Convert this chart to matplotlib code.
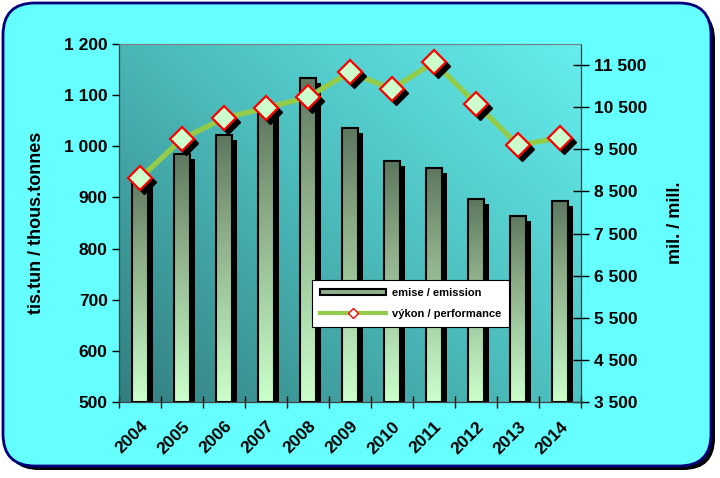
import numpy as np
import matplotlib
matplotlib.use('Agg')
import matplotlib.pyplot as plt
import matplotlib.transforms as mtransforms
from matplotlib.patches import FancyBboxPatch, Rectangle
from matplotlib.colors import LinearSegmentedColormap
from matplotlib.lines import Line2D
from matplotlib.ticker import FixedLocator, FuncFormatter

plt.rcParams['font.family'] = ['Liberation Sans', 'DejaVu Sans']
plt.rcParams['font.weight'] = 'bold'

# data
years = ['2004', '2005', '2006', '2007', '2008', '2009', '2010', '2011', '2012', '2013', '2014']
emission = [944, 985, 1022, 1068, 1134, 1036, 971, 958, 897, 864, 893]
performance = [8810, 9740, 10240, 10480, 10740, 11330, 10930, 11570, 10580, 9600, 9770]

fig = plt.figure(figsize=(7.2, 4.78), dpi=100)
fig.patch.set_facecolor('white')

# rounded cyan frame with shadow
shadow = FancyBboxPatch((7, 8), 708, 462, boxstyle='round,pad=0,rounding_size=32',
                        transform=mtransforms.IdentityTransform(),
                        facecolor='black', edgecolor='none', zorder=0)
frame = FancyBboxPatch((3, 12), 708, 463, boxstyle='round,pad=0,rounding_size=32',
                       transform=mtransforms.IdentityTransform(),
                       facecolor='#66ffff', edgecolor='#00007a', linewidth=2, zorder=1)
fig.patches.extend([shadow, frame])

ax = fig.add_axes([0.165, 0.159, 0.642, 0.749])
ax.set_zorder(2)
ax2 = ax.twinx()
ax2.set_zorder(3)
ax2.patch.set_visible(False)

x = np.arange(len(years))

# plot area gradient (dark teal lower-left -> light cyan upper-right)
bg_cmap = LinearSegmentedColormap.from_list('bg', ['#347f80', '#4cbcbc', '#66eeee'])
gx, gy = np.meshgrid(np.linspace(0, 1, 200), np.linspace(0, 1, 200))
grad = 0.55 * gx + 0.45 * gy
ax.imshow(grad, cmap=bg_cmap, extent=[0, 1, 0, 1], transform=ax.transAxes,
          origin='lower', aspect='auto', zorder=0)
ax.patch.set_visible(False)

# bars with shadow and vertical gradient
bar_cmap = LinearSegmentedColormap.from_list('bar', ['#ccffcc', '#a8d4a8', '#8aa884', '#5e7860'])
shadow_tr = mtransforms.offset_copy(ax.transData, fig=fig, x=5, y=-5, units='dots')
w = 0.38
vgrad = np.linspace(0, 1, 100).reshape(-1, 1)
for xi, v in zip(x, emission):
    sh = Rectangle((xi - w / 2, 480), w, v - 480, facecolor='black', edgecolor='none',
                   transform=shadow_tr, zorder=2)
    sh.set_clip_path(ax.patch)
    ax.add_patch(sh)
    img = ax.imshow(vgrad, cmap=bar_cmap, extent=[xi - w / 2, xi + w / 2, 500, v],
                    origin='lower', aspect='auto', zorder=3)
    r = Rectangle((xi - w / 2, 500), w, v - 500, facecolor='none', edgecolor='black',
                  linewidth=1.5, zorder=4)
    ax.add_patch(r)
    img.set_clip_path(r)

ax.set_xlim(-0.5, 10.5)
ax.set_ylim(500, 1200)
ax.yaxis.set_major_locator(FixedLocator(np.arange(500, 1201, 100)))
ax.yaxis.set_major_formatter(FuncFormatter(lambda v, p: f'{int(v):,}'.replace(',', ' ')))
ax.tick_params(axis='y', direction='out', length=5, width=1, labelsize=12.5, pad=3)
ax.set_xticks(x)
ax.set_xticklabels(years, rotation=45, ha='right', va='top', rotation_mode='anchor',
                   fontsize=12.5)
ax.tick_params(axis='x', which='major', length=0, pad=12)
ax.set_xticks(np.arange(-0.5, 11, 1), minor=True)
ax.tick_params(axis='x', which='minor', direction='inout', length=9, width=1)
ax.set_ylabel('tis.tun / thous.tonnes', fontsize=13, fontweight='bold', labelpad=14)

# performance line with marker shadows
ax2.plot(x, performance, color='#92cc4a', linewidth=3.8, zorder=2)
mshadow_tr = mtransforms.offset_copy(ax2.transData, fig=fig, x=4, y=-4, units='dots')
ax2.plot(x, performance, linestyle='none', marker='D', markersize=12,
         markerfacecolor='black', markeredgecolor='black', transform=mshadow_tr, zorder=3)
ax2.plot(x, performance, linestyle='none', marker='D', markersize=12,
         markerfacecolor='#ccffcc', markeredgecolor='red', markeredgewidth=1.6, zorder=4)
ax2.set_ylim(3500, 12000)
ax2.yaxis.set_major_locator(FixedLocator(np.arange(3500, 11501, 1000)))
ax2.yaxis.set_major_formatter(FuncFormatter(lambda v, p: f'{int(v):,}'.replace(',', ' ')))
ax2.tick_params(axis='y', direction='inout', length=11, width=1, labelsize=12.5, pad=4)
ax2.set_ylabel('mil. / mill.', fontsize=13, fontweight='bold', labelpad=14)

for a in (ax, ax2):
    a.spines['top'].set_color('#808080')
    a.spines['bottom'].set_color('#404040')
    a.spines['left'].set_color('#303030')
    a.spines['right'].set_color('#303030')

# legend
h_bar = Rectangle((0, 0), 1, 1, facecolor='#8fae8c', edgecolor='black', linewidth=1.5)
h_line = Line2D([], [], color='#92cc4a', linewidth=3, marker='D', markersize=5,
                markerfacecolor='white', markeredgecolor='red')
leg = ax2.legend([h_bar, h_line], ['emise / emission', 'výkon / performance'],
                 loc='upper left', bbox_to_anchor=(312 / 720, 1 - 280 / 478),
                 bbox_transform=fig.transFigure, frameon=True,
                 fancybox=False, edgecolor='black', framealpha=1, handlelength=6,
                 handleheight=0.5, borderpad=0.7, labelspacing=1.0, borderaxespad=0,
                 handletextpad=0.5, prop={'weight': 'bold', 'size': 8})
leg.get_frame().set_linewidth(0.8)

fig.savefig('out.png', dpi=100, facecolor='white')
